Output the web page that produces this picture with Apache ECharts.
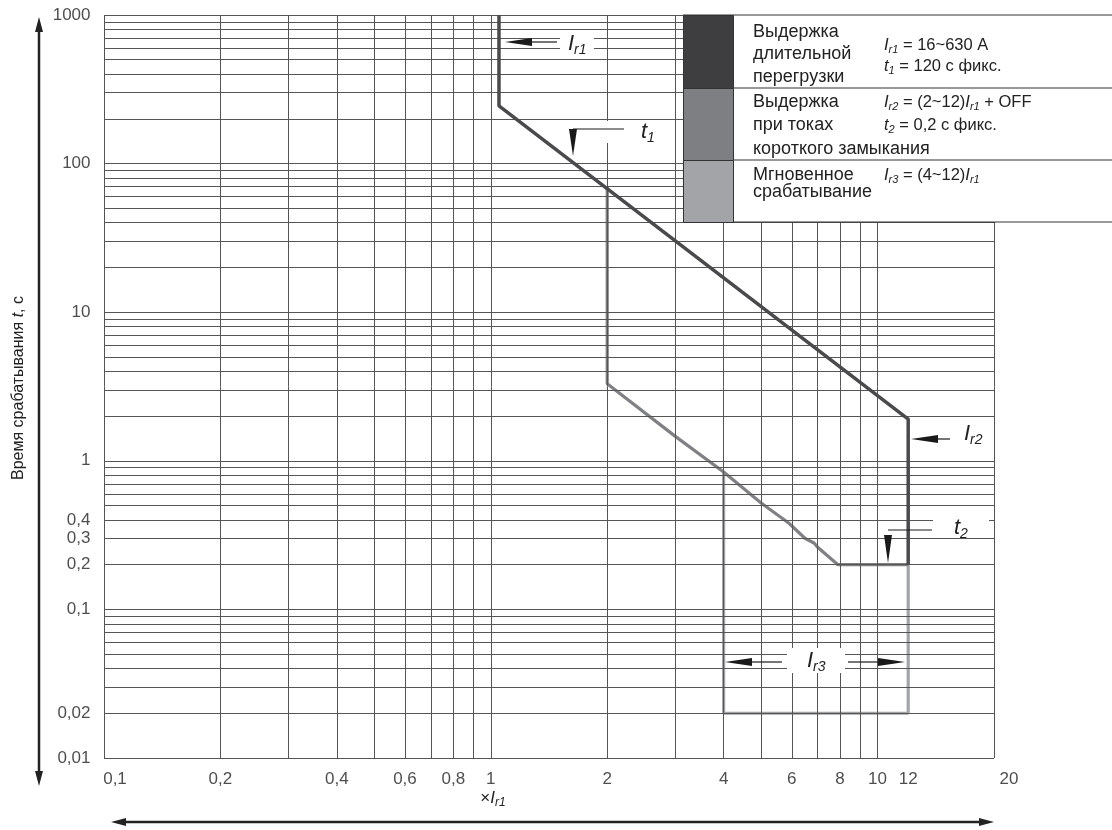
<!DOCTYPE html>
<html>
<head>
<meta charset="utf-8">
<script src="https://cdn.jsdelivr.net/npm/echarts@6/dist/echarts.min.js"></script>
<style>
html,body{margin:0;padding:0;background:#fff;}
#chart{width:1112px;height:830px;}
</style>
</head>
<body>
<div id="chart"></div>
<script>
// ---- data ----
const xTickValues = [0.1, 0.2, 0.4, 0.6, 0.8, 1, 2, 4, 6, 8, 10, 12, 20];
const yTickValues = [0.01, 0.02, 0.1, 0.2, 0.3, 0.4, 1, 10, 100, 1000];
const xGridValues = [0.1,0.2,0.3,0.4,0.5,0.6,0.7,0.8,0.9,1,2,3,4,5,6,7,8,9,10,20];
const yDecades = [0.01, 0.1, 1, 10, 100];
const yMultipliers = [1,2,3,4,5,6,7,8,9];
// long-time delay (dark)
const longDelayX = [1.05, 1.05, 12, 12];
const longDelayY = [1000, 245, 1.91, 0.2];
// short-time delay (medium)
const shortDelayX = [2, 2, 3, 4, 5, 5.9, 6.5, 6.85, 7.0, 7.9, 12];
const shortDelayY = [70, 3.3, 1.46, 0.84, 0.52, 0.38, 0.30, 0.28, 0.262, 0.2, 0.2];
// instantaneous (light)
const instX = [4, 4, 12, 12];
const instY = [0.84, 0.02, 0.02, 0.2];

const yGridValues = [];
yDecades.forEach(d => yMultipliers.forEach(m => yGridValues.push(+(d*m).toPrecision(3))));
yGridValues.push(1000);

const fmt = v => String(v).replace('.', ',');
const FONT = 'Liberation Sans, Arial, sans-serif';
const pairs = (xs, ys) => xs.map((x, i) => [x, ys[i]]);

const chart = echarts.init(document.getElementById('chart'), null, {renderer: 'canvas'});

const gridColor = '#555';
const markData = [];
xGridValues.forEach(v => markData.push({xAxis: v}));
yGridValues.forEach(v => markData.push({yAxis: v}));

// graphics
const Z = 100;
function tri(points, color) {
  return {type: 'polygon', z: Z, shape: {points: points}, style: {fill: color || '#1a1a1a'}, silent: true};
}
function line(x1, y1, x2, y2, w, color) {
  return {type: 'line', z: Z, shape: {x1, y1, x2, y2}, style: {stroke: color || '#1a1a1a', lineWidth: w || 1}, silent: true};
}
function rect(x, y, w, h, fill, stroke) {
  return {type: 'rect', z: Z, shape: {x, y, width: w, height: h}, style: {fill: fill, stroke: stroke || null, lineWidth: stroke ? 1 : 0}, silent: true};
}
function text(str, x, y, opts) {
  opts = opts || {};
  const fs = opts.fs || 18;
  const sfs = opts.sfs || Math.round(fs * 0.68);
  return {
    type: 'text', z: Z + 1, silent: true, rotation: opts.rot || 0, x: x, y: y,
    style: {
      text: str, x: 0, y: 0, fill: '#222', fontFamily: FONT, fontSize: fs,
      align: opts.align || 'left', verticalAlign: 'middle',
      rich: {
        i: {fontStyle: 'italic', fontSize: opts.ifs || fs, fontFamily: FONT, fill: '#222', lineHeight: fs + 4, verticalAlign: 'middle'},
        s: {fontStyle: 'italic', fontSize: sfs, fontFamily: FONT, fill: '#222', lineHeight: fs + 4, verticalAlign: 'bottom'},
        n: {fontSize: fs, fontFamily: FONT, fill: '#222', lineHeight: fs + 4, verticalAlign: 'middle'}
      }
    }
  };
}

const graphics = [
  // legend box
  rect(683, 15, 429, 207, '#fff'),
  line(683, 15, 1112, 15, 1, '#333'),
  line(733, 88, 1112, 88, 1, '#333'),
  line(733, 160, 1112, 160, 1, '#333'),
  line(733, 222, 1112, 222, 1, '#333'),
  rect(683.5, 15.5, 50, 73, '#3e3e40', '#333'),
  rect(683.5, 88.5, 50, 72, '#7e7f82', '#333'),
  rect(683.5, 160.5, 50, 62, '#a3a4a7', '#333'),
  text('Выдержка', 753, 32),
  text('длительной', 753, 54),
  text('перегрузки', 753, 77),
  text('Выдержка', 753, 102),
  text('при токах', 753, 125),
  text('короткого замыкания', 753, 149),
  text('Мгновенное', 753, 175),
  text('срабатывание', 753, 192),
  text('{i|I}{s|r1}{n| = 16~630 A}', 884, 45, {fs: 16.5}),
  text('{i|t}{s|1}{n| = 120 с фикс.}', 884, 66, {fs: 16.5}),
  text('{i|I}{s|r2}{n| = (2~12)}{i|I}{s|r1}{n| + OFF}', 884, 102, {fs: 16.5}),
  text('{i|t}{s|2}{n| = 0,2 с фикс.}', 884, 125, {fs: 16.5}),
  text('{i|I}{s|r3}{n| = (4~12)}{i|I}{s|r1}', 884, 175, {fs: 16.5}),

  // Ir1 annotation
  rect(560, 32, 34, 24, '#fff'),
  line(530, 42, 557, 42, 1.2),
  tri([[505, 42], [532, 38], [532, 46]]),
  text('{i|I}{s|r1}', 568, 44, {fs: 22, sfs: 14}),

  // t1 annotation
  rect(596, 121, 68, 22, '#fff'),
  line(573, 129, 624, 129, 1.2),
  tri([[573, 156], [569, 129], [577, 129]]),
  text('{i|t}{s|1}', 641, 132, {fs: 22, sfs: 14}),

  // Ir2 annotation
  line(936, 439, 950, 439, 1.2),
  tri([[911, 439], [938, 435], [938, 443]]),
  text('{i|I}{s|r2}', 964, 434, {fs: 22, sfs: 14}),

  // t2 annotation
  rect(933, 511, 56, 25, '#fff'),
  line(888, 530, 932, 530, 1.2),
  tri([[888, 563], [884, 535], [892, 535]]),
  text('{i|t}{s|2}', 954, 528, {fs: 22, sfs: 14}),

  // Ir3 annotation
  rect(787, 648, 58, 25, '#fff'),
  line(750, 662, 782, 662, 1.2),
  tri([[725, 662], [752, 658], [752, 666]]),
  line(848, 662, 880, 662, 1.2),
  tri([[905, 662], [878, 658], [878, 666]]),
  text('{i|I}{s|r3}', 807, 661, {fs: 22, sfs: 14}),

  // y-axis arrow
  line(39, 30, 39, 773, 2.5, '#222'),
  tri([[39, 17], [35, 32], [43, 32]], '#222'),
  tri([[39, 786], [35, 771], [43, 771]], '#222'),
  // x-axis arrow
  line(124, 822, 981, 822, 2.5, '#222'),
  tri([[111, 822], [126, 818], [126, 826]], '#222'),
  tri([[994, 822], [979, 818], [979, 826]], '#222'),

  // axis names
  text('Время срабатывания {i|t}, с', 19, 388, {fs: 16, align: 'center', rot: Math.PI / 2}),
  text('×{i|I}{s|r1}', 493, 798, {fs: 17, align: 'center'})
];

const xLabelData = xTickValues.map((v, i) => ({
  value: [v, 0.01],
  label: {offset: [i === 0 ? 11 : (i === xTickValues.length - 1 ? 15 : 0), 0]}
}));
const yLabelData = yTickValues.map(v => [0.1, v]);

const option = {
  animation: false,
  backgroundColor: '#fff',
  grid: {left: 104, top: 15, right: 118, bottom: 72, containLabel: false},
  xAxis: {
    type: 'log', logBase: 10, min: 0.1, max: 20,
    axisLine: {show: false}, axisTick: {show: false}, axisLabel: {show: false},
    splitLine: {show: false}, minorSplitLine: {show: false}
  },
  yAxis: {
    type: 'log', logBase: 10, min: 0.01, max: 1000,
    axisLine: {show: false}, axisTick: {show: false}, axisLabel: {show: false},
    splitLine: {show: false}
  },
  series: [
    {
      type: 'line', data: [], z: 1, silent: true,
      markLine: {
        silent: true, symbol: ['none', 'none'], animation: false,
        label: {show: false},
        lineStyle: {color: gridColor, width: 1, type: 'solid'},
        emphasis: {disabled: true},
        data: markData
      }
    },
    {
      type: 'line', data: pairs(instX, instY), symbol: 'none', z: 3, silent: true,
      lineStyle: {color: '#a3a4a7', width: 3.2}
    },
    {
      type: 'line', data: pairs(shortDelayX, shortDelayY), symbol: 'none', z: 4, silent: true,
      lineStyle: {color: '#808184', width: 3.2}
    },
    {
      type: 'line', data: pairs(longDelayX, longDelayY), symbol: 'none', z: 5, silent: true,
      lineStyle: {color: '#4a4a4c', width: 3.5}
    },
    {
      type: 'scatter', data: xLabelData, symbolSize: 1, clip: false, silent: true,
      itemStyle: {color: 'rgba(0,0,0,0)'},
      label: {show: true, position: 'bottom', distance: 12, color: '#222', fontSize: 17, fontFamily: FONT,
        formatter: p => fmt(p.value[0])}
    },
    {
      type: 'scatter', data: yLabelData, symbolSize: 1, clip: false, silent: true,
      itemStyle: {color: 'rgba(0,0,0,0)'},
      label: {show: true, position: 'left', distance: 13, color: '#222', fontSize: 17, fontFamily: FONT,
        formatter: p => fmt(p.value[1])}
    }
  ],
  graphic: {elements: graphics}
};
chart.setOption(option);
</script>
</body>
</html>
